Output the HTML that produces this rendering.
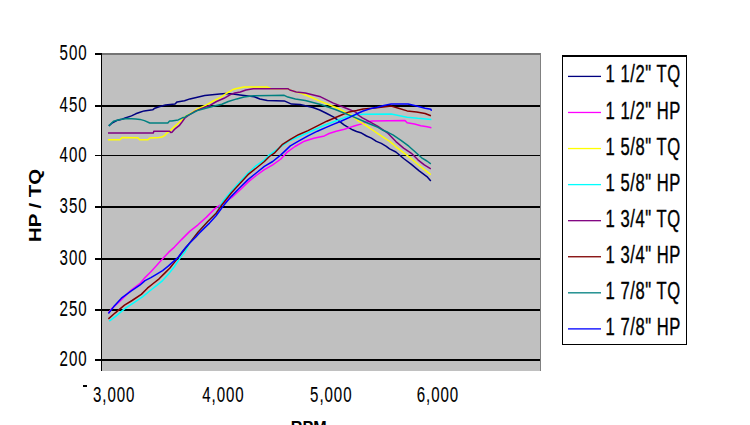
<!DOCTYPE html>
<html><head><meta charset="utf-8"><style>
html,body{margin:0;padding:0;background:#fff;width:750px;height:425px;overflow:hidden}
svg{position:absolute;left:0;top:0;display:block}
text{font-family:"Liberation Sans",sans-serif;fill:#000}
</style></head><body>
<svg width="750" height="425" viewBox="0 0 750 425" shape-rendering="crispEdges">
<rect x="0" y="0" width="750" height="425" fill="#fff"/>
<rect x="102" y="55" width="438" height="316" fill="#C0C0C0"/>
<rect x="102" y="53" width="439" height="2" fill="#747474"/>
<rect x="540" y="53" width="1" height="318" fill="#808080"/>

<rect x="95" y="53" width="6" height="2" fill="#000"/>
<rect x="95" y="105" width="445" height="2" fill="#000"/>
<rect x="95" y="155" width="445" height="1" fill="#000"/>
<rect x="95" y="206" width="445" height="2" fill="#000"/>
<rect x="95" y="258" width="445" height="2" fill="#000"/>
<rect x="95" y="309" width="445" height="2" fill="#000"/>
<rect x="95" y="359" width="445" height="2" fill="#000"/>
<rect x="101" y="53" width="1" height="318" fill="#000"/>
<polyline points="108.8,125.9 112.5,122.8 116.7,120.6 120.9,119.6 125.2,118.0 131.5,115.9 135.7,113.8 140.0,112.2 144.2,110.9 152.7,109.8 154.8,108.2 159.1,106.7 165.4,105.1 175.0,104.0 177.1,101.9 184.5,100.8 189.9,98.9 198.4,96.9 204.8,95.5 219.7,94.1 226.1,93.5 233.2,94.1 240.0,94.9 254.3,96.7 259.9,99.0 267.3,100.4 284.2,100.9 291.6,104.1 300.0,104.6 312.9,107.5 319.7,110.0 326.8,113.5 333.8,117.1 344.4,125.1 352.5,129.8 356.6,131.5 360.7,132.7 366.5,136.0 371.4,138.1 376.4,141.4 381.3,143.4 386.3,146.3 389.6,148.8 395.9,152.0 403.6,158.5 411.4,164.3 419.2,170.8 426.9,176.6 430.8,181.1" fill="none" stroke="#000080" stroke-width="1.5" stroke-linejoin="round" shape-rendering="auto"/>
<polyline points="108.4,313.0 111.5,308.9 118.3,302.8 130.6,290.6 139.8,283.7 145.0,277.6 150.9,271.8 156.8,265.3 162.6,258.8 168.5,252.4 174.4,247.1 181.5,239.6 189.7,231.4 198.0,224.8 206.2,217.4 214.4,209.1 217.7,206.6 231.5,197.7 239.7,190.3 248.0,182.1 256.2,175.5 264.4,169.7 272.7,164.8 280.9,159.0 286.8,152.4 295.0,146.5 304.4,141.2 313.8,138.2 324.4,135.9 329.1,133.5 336.2,131.2 344.4,129.3 350.0,127.4 355.0,125.7 360.7,124.1 366.5,122.0 372.3,120.9 405.0,120.4 407.1,122.8 414.5,124.1 420.8,125.7 427.2,126.8 431.4,127.8" fill="none" stroke="#FF00FF" stroke-width="1.5" stroke-linejoin="round" shape-rendering="auto"/>
<polyline points="108.0,139.7 120.0,139.7 122.0,137.6 137.8,137.7 139.6,139.8 148.0,139.8 149.8,138.0 158.8,137.4 161.8,137.1 164.8,135.3 167.2,132.9 170.8,130.2 174.4,126.6 179.2,122.5 182.4,119.4 185.0,116.7 189.9,113.8 196.3,109.5 204.8,105.8 213.3,101.0 220.8,97.3 226.1,93.5 232.5,89.8 235.6,88.7 244.0,86.9 267.0,86.9 271.0,88.7 287.9,88.7 289.8,90.0 296.3,92.0 302.0,93.5 309.9,96.8 320.6,101.4 335.9,107.5 351.2,115.2 358.2,120.8 364.0,124.1 369.8,128.2 374.7,131.5 379.7,134.8 384.6,138.1 389.6,141.4 393.7,144.7 395.9,146.8 406.2,154.6 414.0,161.0 421.7,167.5 430.8,174.6" fill="none" stroke="#FFFF00" stroke-width="1.5" stroke-linejoin="round" shape-rendering="auto"/>
<polyline points="109.2,321.2 115.3,316.6 124.5,308.9 133.6,302.8 142.8,296.7 150.9,290.0 156.8,285.3 162.6,280.6 168.5,274.1 174.4,266.5 180.3,257.6 185.0,251.8 189.7,242.9 198.0,232.2 207.8,221.5 216.1,213.2 223.2,201.0 231.5,191.1 239.7,182.1 248.0,173.0 256.2,165.6 264.4,159.8 269.4,154.9 280.9,146.6 290.0,140.5 303.2,134.7 313.8,130.0 324.4,125.3 333.8,121.8 344.4,117.6 353.8,115.2 363.2,114.3 391.2,114.0 407.1,117.2 417.7,118.3 431.4,119.4" fill="none" stroke="#00FFFF" stroke-width="1.5" stroke-linejoin="round" shape-rendering="auto"/>
<polyline points="108.0,132.9 153.4,132.9 153.8,131.3 169.6,131.3 170.8,132.6 172.0,132.3 174.4,129.6 175.0,128.9 179.2,125.7 182.4,121.5 185.0,117.8 187.7,115.9 195.2,111.1 201.6,108.5 209.1,105.8 216.5,101.5 224.0,98.3 230.4,94.6 234.8,93.0 240.3,92.0 245.9,90.0 253.3,88.7 287.9,88.7 289.8,90.0 296.3,92.0 305.3,93.0 320.6,96.8 332.8,102.9 348.1,109.0 355.7,112.1 358.2,115.0 362.4,117.9 368.1,120.8 373.9,124.1 378.0,126.5 383.0,129.8 388.1,133.5 395.9,141.6 403.6,148.1 411.4,153.3 417.9,159.8 424.3,164.9 430.8,168.8" fill="none" stroke="#800080" stroke-width="1.5" stroke-linejoin="round" shape-rendering="auto"/>
<polyline points="108.4,318.9 115.3,312.8 124.5,305.1 132.1,300.5 141.3,294.4 147.4,288.2 153.2,283.5 159.1,278.8 165.0,272.9 169.7,268.2 174.4,262.4 179.1,256.5 189.7,242.9 198.0,232.2 207.8,221.5 216.1,213.2 221.8,205.0 231.5,192.8 248.0,174.7 264.4,161.5 269.4,156.5 274.3,153.2 282.1,144.7 290.3,139.4 298.5,134.7 308.0,130.6 317.4,125.9 326.8,121.2 333.8,118.2 340.9,115.3 349.1,111.9 356.6,110.5 363.2,109.1 372.6,108.3 391.2,106.1 398.6,108.2 407.1,110.9 416.6,112.0 425.1,113.5 430.9,115.7" fill="none" stroke="#800000" stroke-width="1.5" stroke-linejoin="round" shape-rendering="auto"/>
<polyline points="108.8,125.9 113.5,121.2 120.0,119.5 127.3,118.5 135.7,119.0 140.0,119.4 144.4,120.6 149.8,123.0 167.8,123.0 169.6,120.9 171.8,121.0 178.1,119.9 182.4,117.8 185.0,117.2 186.7,115.9 192.0,113.3 197.3,110.6 204.8,108.5 213.3,106.3 221.9,104.2 228.3,101.5 236.8,98.9 244.0,97.1 253.3,95.7 271.5,95.6 284.2,95.3 287.9,97.1 295.4,99.0 305.3,100.6 320.6,104.5 335.9,109.8 351.2,115.9 362.4,120.8 368.1,123.2 373.1,125.3 378.0,127.4 383.0,130.3 387.9,132.3 392.9,134.8 401.0,140.3 408.8,146.2 415.3,152.0 421.7,157.8 426.9,161.0 430.8,163.9" fill="none" stroke="#008080" stroke-width="1.5" stroke-linejoin="round" shape-rendering="auto"/>
<polyline points="108.4,313.5 113.8,306.6 121.4,298.2 130.6,291.3 139.8,285.2 145.0,280.6 150.9,277.6 156.8,274.1 162.6,270.6 168.5,265.9 174.4,260.6 177.9,257.6 182.6,251.3 185.1,248.1 190.0,242.8 195.6,237.2 199.2,233.3 204.8,227.6 209.5,223.1 216.1,215.7 223.2,206.0 231.5,196.1 239.7,187.8 248.0,179.6 256.2,173.0 264.4,166.4 272.7,161.5 280.9,154.9 290.3,145.9 298.5,141.2 308.0,135.9 317.4,131.2 325.6,127.6 333.8,124.1 340.9,121.2 349.1,117.6 355.7,114.3 363.2,111.0 370.7,108.6 377.3,107.2 383.8,105.6 391.2,104.0 408.1,104.0 416.6,106.1 425.1,108.2 430.9,109.3 431.4,110.9" fill="none" stroke="#0000FF" stroke-width="1.5" stroke-linejoin="round" shape-rendering="auto"/>
<text x="86.25" y="60" font-size="21.8" letter-spacing="1.37" stroke="#000" stroke-width="0.1" transform="scale(0.691,1)">500</text>
<text x="86.25" y="112" font-size="21.8" letter-spacing="1.37" stroke="#000" stroke-width="0.1" transform="scale(0.691,1)">450</text>
<text x="86.25" y="162" font-size="21.8" letter-spacing="1.37" stroke="#000" stroke-width="0.1" transform="scale(0.691,1)">400</text>
<text x="86.25" y="213" font-size="21.8" letter-spacing="1.37" stroke="#000" stroke-width="0.1" transform="scale(0.691,1)">350</text>
<text x="86.25" y="265" font-size="21.8" letter-spacing="1.37" stroke="#000" stroke-width="0.1" transform="scale(0.691,1)">300</text>
<text x="86.25" y="316" font-size="21.8" letter-spacing="1.37" stroke="#000" stroke-width="0.1" transform="scale(0.691,1)">250</text>
<text x="86.25" y="366" font-size="21.8" letter-spacing="1.37" stroke="#000" stroke-width="0.1" transform="scale(0.691,1)">200</text>
<text x="134.59" y="402" font-size="21.8" letter-spacing="1.37" stroke="#000" stroke-width="0.1" transform="scale(0.691,1)">3,000</text>
<text x="292.71" y="402" font-size="21.8" letter-spacing="1.37" stroke="#000" stroke-width="0.1" transform="scale(0.691,1)">4,000</text>
<text x="448.77" y="402" font-size="21.8" letter-spacing="1.37" stroke="#000" stroke-width="0.1" transform="scale(0.691,1)">5,000</text>
<text x="603.18" y="402" font-size="21.8" letter-spacing="1.37" stroke="#000" stroke-width="0.1" transform="scale(0.691,1)">6,000</text>
<rect x="83" y="385" width="4" height="2" fill="#000"/>
<text x="0" y="0" font-size="16.7" font-weight="bold" transform="translate(41,242.07) rotate(-90) scale(1.22,1)">HP / TQ</text>
<text x="0" y="0" font-size="16.7" font-weight="bold" transform="translate(290.8,432.5) scale(0.967,1)">RPM</text>
<rect x="562" y="55" width="125" height="2" fill="#000"/>
<rect x="562" y="55" width="1" height="290" fill="#000"/>
<rect x="686" y="55" width="1" height="290" fill="#000"/>
<rect x="562" y="344" width="125" height="1" fill="#000"/>
<rect x="568" y="75.75" width="33" height="1.3" fill="#000080" shape-rendering="auto"/>
<text x="894.51" y="82" font-size="24.5" letter-spacing="0.82" stroke="#000" stroke-width="0.4" transform="scale(0.677,1)">1 1/2&quot; TQ</text>
<rect x="568" y="111.82" width="33" height="1.3" fill="#FF00FF" shape-rendering="auto"/>
<text x="894.51" y="119" font-size="24.5" letter-spacing="0.82" stroke="#000" stroke-width="0.4" transform="scale(0.677,1)">1 1/2&quot; HP</text>
<rect x="568" y="147.89" width="33" height="1.3" fill="#FFFF00" shape-rendering="auto"/>
<text x="894.51" y="155" font-size="24.5" letter-spacing="0.82" stroke="#000" stroke-width="0.4" transform="scale(0.677,1)">1 5/8&quot; TQ</text>
<rect x="568" y="183.96" width="33" height="1.3" fill="#00FFFF" shape-rendering="auto"/>
<text x="894.51" y="191" font-size="24.5" letter-spacing="0.82" stroke="#000" stroke-width="0.4" transform="scale(0.677,1)">1 5/8&quot; HP</text>
<rect x="568" y="220.03" width="33" height="1.3" fill="#800080" shape-rendering="auto"/>
<text x="894.51" y="227" font-size="24.5" letter-spacing="0.82" stroke="#000" stroke-width="0.4" transform="scale(0.677,1)">1 3/4&quot; TQ</text>
<rect x="568" y="256.10" width="33" height="1.3" fill="#800000" shape-rendering="auto"/>
<text x="894.51" y="263" font-size="24.5" letter-spacing="0.82" stroke="#000" stroke-width="0.4" transform="scale(0.677,1)">1 3/4&quot; HP</text>
<rect x="568" y="292.17" width="33" height="1.3" fill="#008080" shape-rendering="auto"/>
<text x="894.51" y="299" font-size="24.5" letter-spacing="0.82" stroke="#000" stroke-width="0.4" transform="scale(0.677,1)">1 7/8&quot; TQ</text>
<rect x="568" y="328.24" width="33" height="1.3" fill="#0000FF" shape-rendering="auto"/>
<text x="894.51" y="335" font-size="24.5" letter-spacing="0.82" stroke="#000" stroke-width="0.4" transform="scale(0.677,1)">1 7/8&quot; HP</text>
</svg>
</body></html>
